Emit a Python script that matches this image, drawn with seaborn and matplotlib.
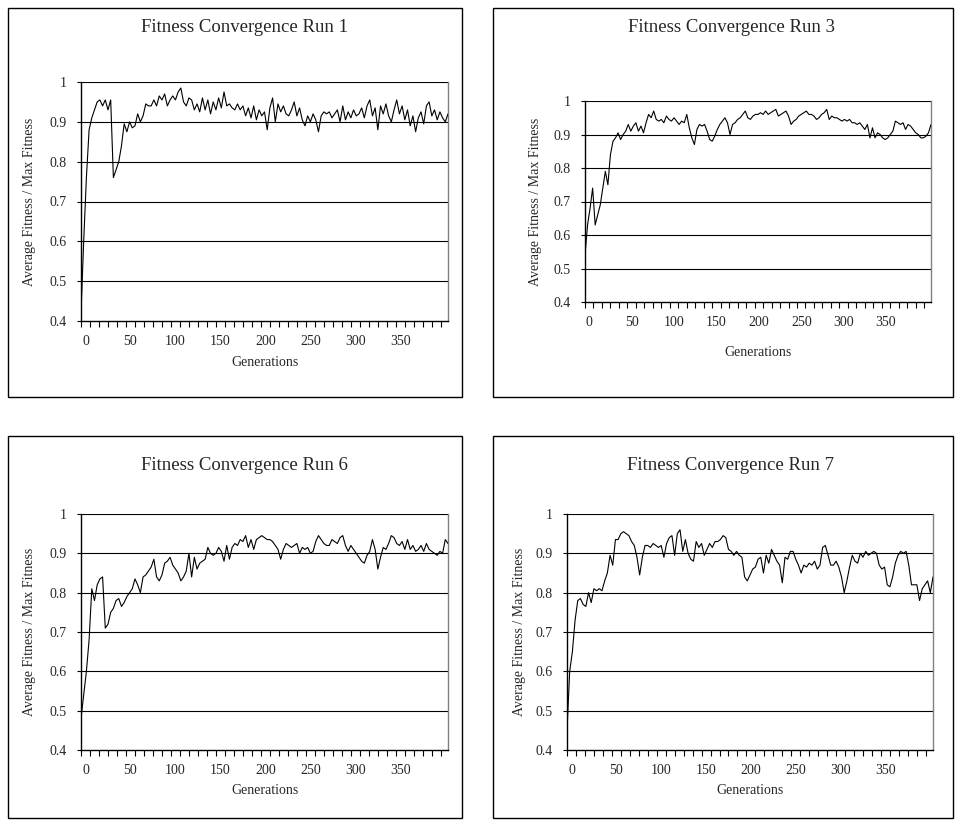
import numpy as np
import matplotlib
matplotlib.use("Agg")
import matplotlib.pyplot as plt
from matplotlib.patches import Rectangle
import seaborn as sns

# generations sampled every 3 steps
generations = np.arange(0, 409, 3)

run1 = [0.42, 0.60, 0.76, 0.88, 0.91, 0.93, 0.95, 0.955, 0.94, 0.955,
        0.93, 0.955, 0.76, 0.78, 0.80, 0.84, 0.895, 0.875, 0.90, 0.885,
        0.89, 0.92, 0.90, 0.915, 0.945, 0.94, 0.94, 0.955, 0.94, 0.965,
        0.955, 0.97, 0.94, 0.955, 0.965, 0.955, 0.975, 0.985, 0.95, 0.94,
        0.96, 0.955, 0.93, 0.945, 0.925, 0.96, 0.93, 0.955, 0.92, 0.95,
        0.93, 0.96, 0.935, 0.975, 0.94, 0.945, 0.935, 0.93, 0.945, 0.93,
        0.94, 0.915, 0.935, 0.91, 0.94, 0.905, 0.93, 0.915, 0.925, 0.88,
        0.935, 0.96, 0.90, 0.945, 0.925, 0.94, 0.92, 0.915, 0.93, 0.95,
        0.915, 0.935, 0.905, 0.89, 0.915, 0.90, 0.92, 0.905, 0.875, 0.915,
        0.925, 0.92, 0.925, 0.91, 0.92, 0.93, 0.90, 0.94, 0.905, 0.925,
        0.91, 0.93, 0.915, 0.92, 0.935, 0.91, 0.94, 0.955, 0.915, 0.935,
        0.88, 0.94, 0.92, 0.945, 0.915, 0.90, 0.93, 0.955, 0.92, 0.94,
        0.905, 0.93, 0.89, 0.915, 0.875, 0.91, 0.925, 0.895, 0.94, 0.95,
        0.915, 0.93, 0.905, 0.925, 0.91, 0.90, 0.92]

run3 = [0.54, 0.63, 0.68, 0.74, 0.63, 0.66, 0.69, 0.74, 0.79, 0.75,
        0.84, 0.88, 0.89, 0.905, 0.885, 0.90, 0.91, 0.93, 0.91, 0.925,
        0.935, 0.91, 0.925, 0.905, 0.935, 0.96, 0.95, 0.97, 0.945, 0.94,
        0.945, 0.935, 0.955, 0.945, 0.94, 0.95, 0.94, 0.93, 0.94, 0.935,
        0.96, 0.92, 0.89, 0.87, 0.915, 0.93,
        0.925, 0.93, 0.91, 0.885, 0.88, 0.895, 0.915, 0.93, 0.94, 0.95,
        0.935, 0.90, 0.93, 0.935, 0.945, 0.95, 0.96, 0.97, 0.95, 0.945,
        0.955, 0.96, 0.96, 0.965, 0.96, 0.97, 0.96, 0.965, 0.97, 0.975,
        0.955, 0.96, 0.965, 0.97, 0.955, 0.93, 0.94, 0.945, 0.955, 0.96,
        0.965, 0.97, 0.96, 0.96, 0.955, 0.945, 0.95, 0.96, 0.965, 0.975,
        0.945,
        0.955, 0.95, 0.95, 0.945, 0.94, 0.945, 0.94, 0.945, 0.935, 0.935,
        0.93, 0.935, 0.925, 0.915, 0.93, 0.89, 0.92, 0.89, 0.905, 0.90,
        0.89, 0.885, 0.89, 0.90, 0.91, 0.94, 0.935, 0.93, 0.935, 0.915,
        0.93, 0.925, 0.915, 0.905, 0.90, 0.89, 0.89, 0.895, 0.905, 0.93]

run6 = [0.48, 0.54, 0.60, 0.68, 0.81, 0.78, 0.82, 0.835, 0.84, 0.71,
        0.72, 0.75, 0.76, 0.78, 0.785, 0.765, 0.775, 0.79, 0.80, 0.81,
        0.835, 0.82, 0.80, 0.84, 0.845, 0.855, 0.865, 0.885, 0.84, 0.83,
        0.845, 0.875, 0.88, 0.89, 0.87, 0.86, 0.85, 0.83, 0.84, 0.855,
        0.90, 0.84, 0.89, 0.86, 0.875,
        0.88, 0.885, 0.915, 0.90, 0.895, 0.90, 0.915, 0.905, 0.88, 0.92,
        0.885, 0.915, 0.925, 0.92, 0.935, 0.93, 0.945, 0.915, 0.935, 0.91,
        0.935, 0.94, 0.945, 0.94, 0.935, 0.935, 0.93, 0.92, 0.91, 0.885,
        0.91, 0.925, 0.92, 0.915, 0.92, 0.925, 0.90, 0.915, 0.91, 0.915,
        0.90, 0.905, 0.93, 0.945, 0.935, 0.925, 0.92, 0.92,
        0.935, 0.93, 0.925, 0.94, 0.945, 0.92, 0.905, 0.92, 0.91, 0.90,
        0.89, 0.88, 0.875, 0.895, 0.905, 0.935, 0.91, 0.86, 0.89, 0.915,
        0.91, 0.925, 0.945, 0.94, 0.925, 0.92, 0.93, 0.91, 0.935, 0.91,
        0.92, 0.905, 0.91, 0.92, 0.905, 0.925, 0.91, 0.905, 0.90, 0.895,
        0.905, 0.90, 0.935, 0.925]

run7 = [0.45, 0.60, 0.65, 0.73, 0.78, 0.785, 0.77, 0.765, 0.80, 0.775,
        0.81, 0.805, 0.81, 0.805, 0.83, 0.85, 0.895, 0.87, 0.935, 0.935,
        0.95, 0.955, 0.95, 0.945, 0.93, 0.92, 0.89, 0.845, 0.89, 0.92,
        0.92, 0.915, 0.925, 0.92, 0.915, 0.92, 0.89, 0.925, 0.94, 0.945,
        0.895, 0.95, 0.96, 0.905,
        0.935, 0.90, 0.885, 0.88, 0.93, 0.915, 0.925, 0.895, 0.91, 0.925,
        0.915, 0.93, 0.93, 0.935, 0.945, 0.94, 0.91, 0.905, 0.895, 0.905,
        0.895, 0.89, 0.84, 0.83, 0.845, 0.86, 0.865, 0.885, 0.89, 0.85,
        0.895, 0.875, 0.91, 0.895, 0.88, 0.87, 0.825, 0.89, 0.885, 0.905,
        0.905, 0.885, 0.87, 0.85, 0.87, 0.865, 0.875, 0.87, 0.88,
        0.86, 0.87, 0.915, 0.92, 0.895, 0.87, 0.87, 0.88, 0.865, 0.84,
        0.80, 0.83, 0.865, 0.895, 0.88, 0.875, 0.90, 0.89, 0.905, 0.895,
        0.90, 0.905, 0.90, 0.87, 0.86, 0.865, 0.82, 0.815, 0.84, 0.875,
        0.895, 0.905, 0.90, 0.905, 0.87, 0.82, 0.82, 0.82, 0.78, 0.81,
        0.82, 0.83, 0.80, 0.84]

titles = ["Fitness Convergence Run 1", "Fitness Convergence Run 3",
          "Fitness Convergence Run 6", "Fitness Convergence Run 7"]
runs = [run1, run3, run6, run7]
y_ticks = [0.4, 0.5, 0.6, 0.7, 0.8, 0.9, 1.0]
y_tick_labels = ["0.4", "0.5", "0.6", "0.7", "0.8", "0.9", "1"]
x_tick_labels = [0, 50, 100, 150, 200, 250, 300, 350]

W, H = 955, 823
# pixel layouts: (plot area l, t, r, b), (frame l, t, r, b), title (x, y), xlabel y, ylabel x
layouts = [
    ((81, 82, 448, 321), (8, 8, 462, 397), (244, 28), 363, 30),
    ((585, 101, 931, 302), (493, 8, 953, 397), (731, 28), 352, 536),
    ((81, 514, 448, 750), (8, 436, 462, 818), (244, 465), 790, 30),
    ((567, 514, 933, 750), (493, 436, 953, 818), (730, 465), 790, 519),
]

sns.set_style("white")
plt.rcParams["font.family"] = ["Liberation Serif", "DejaVu Serif"]

fig = plt.figure(figsize=(W / 100, H / 100), dpi=100)

for title, vals, (plot_px, frame_px, (tx, ty), xly, ylx) in zip(titles, runs, layouts):
    l, t, r, b = plot_px
    ax = fig.add_axes([l / W, 1 - b / H, (r - l) / W, (b - t) / H])

    fl, ft, fr, fb = frame_px
    fig.add_artist(Rectangle((fl / W, 1 - fb / H), (fr - fl) / W, (fb - ft) / H,
                             transform=fig.transFigure, fill=False,
                             edgecolor="black", linewidth=1.0))

    for yv in y_ticks[1:]:
        ax.axhline(yv, color="black", linewidth=0.8, zorder=1)

    sns.lineplot(x=generations, y=vals, ax=ax, color="black", linewidth=0.8, zorder=3)

    ax.set_xlim(0, generations[-1])
    ax.set_ylim(0.4, 1.0)
    ax.set_yticks(y_ticks)
    ax.set_yticklabels(y_tick_labels, fontsize=10)
    ax.set_xticks([v + 5 for v in x_tick_labels])
    ax.set_xticklabels([str(v) for v in x_tick_labels], fontsize=10)
    ax.set_xticks(np.arange(0, generations[-1] + 1, 10), minor=True)
    ax.tick_params(axis="x", which="major", length=0, pad=10)
    ax.tick_params(axis="x", which="minor", length=4, width=0.8, color="black",
                   direction="out", bottom=True)
    ax.tick_params(axis="y", length=3, width=0.8, color="black", direction="out",
                   left=True, pad=7)

    for side in ["left", "bottom"]:
        ax.spines[side].set_color("black")
        ax.spines[side].set_linewidth(1.0)
    ax.spines["right"].set_color("#808080")
    ax.spines["top"].set_visible(False)
    ax.spines["right"].set_linewidth(1.0)

    ax.set_xlabel("")
    ax.set_ylabel("")
    cx = (l + r) / 2
    fig.text(tx / W, 1 - ty / H, title, ha="center", va="center", fontsize=13.5)
    fig.text(cx / W, 1 - xly / H, "Generations", ha="center", va="center", fontsize=10)
    fig.text(ylx / W, 1 - ((t + b) / 2) / H, "Average Fitness / Max Fitness",
             ha="center", va="center", rotation=90, fontsize=10)

fig.savefig("out.png", dpi=100, facecolor="white")
